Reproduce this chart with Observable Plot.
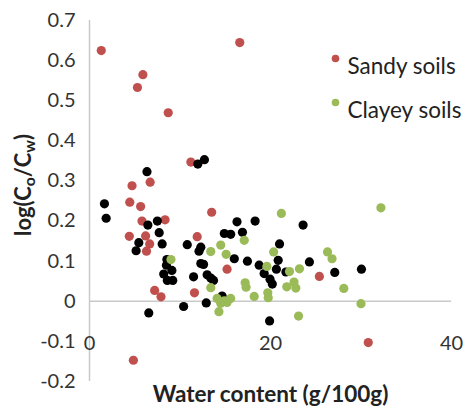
<!DOCTYPE html>
<html>
<head>
<meta charset="utf-8">
<script src="https://cdn.jsdelivr.net/npm/d3@7"></script>
<script src="https://cdn.jsdelivr.net/npm/@observablehq/plot@0.6"></script>
<style>
  html, body { margin: 0; padding: 0; background: #fff; }
</style>
</head>
<body>
<div id="chart"></div>
<script>
// ---- data ----
const sandyX = [1.3, 16.6, 5.9, 5.3, 8.7, 11.2, 4.7, 6.7, 4.45, 5.65, 5.8, 8.35, 4.4, 6.2, 6.65, 6.3, 11.9, 13.5, 7.2, 7.9, 11.6, 15.2, 25.4, 30.8, 4.85];
const sandyY = [0.625, 0.645, 0.565, 0.533, 0.47, 0.347, 0.288, 0.297, 0.247, 0.236, 0.2, 0.203, 0.162, 0.163, 0.143, 0.125, 0.161, 0.222, 0.027, 0.011, 0.021, 0.08, 0.062, -0.103, -0.147];

const clayeyX = [9.0, 13.4, 14.5, 15.1, 17.1, 21.2, 32.2, 20.35, 19.6, 13.4, 17.2, 17.3, 18.2, 19.7, 19.75, 14.1, 14.9, 15.6, 14.5, 15.2, 14.3, 22.1, 23.2, 26.3, 26.8, 21.8, 22.6, 22.8, 28.1, 30.0, 23.1];
const clayeyY = [0.104, 0.124, 0.14, 0.117, 0.152, 0.219, 0.233, 0.123, 0.087, 0.034, 0.046, 0.035, 0.012, 0.021, 0.009, 0.007, 0.001, 0.007, -0.005, -0.003, -0.026, 0.074, 0.081, 0.123, 0.106, 0.036, 0.048, 0.033, 0.032, -0.006, -0.037];

const otherX = [1.65, 1.84, 6.35, 11.97, 12.7, 6.45, 7.5, 7.7, 5.45, 5.15, 8.03, 10.8, 12.3, 12.1, 8.55, 8.5, 9.1, 8.2, 8.6, 9.2, 12.3, 12.6, 11.5, 13.0, 13.4, 13.7, 14.65, 12.9, 10.4, 6.55, 19.9, 14.9, 15.6, 16.9, 16.3, 18.3, 16.0, 17.45, 18.75, 19.3, 19.95, 20.2, 21.0, 20.85, 20.65, 21.7, 23.6, 24.3, 27.1, 30.05];
const otherY = [0.243, 0.207, 0.323, 0.342, 0.353, 0.19, 0.2, 0.171, 0.146, 0.126, 0.143, 0.141, 0.135, 0.125, 0.104, 0.09, 0.077, 0.068, 0.052, 0.052, 0.094, 0.092, 0.061, 0.066, 0.058, 0.052, 0.013, -0.004, -0.013, -0.029, -0.049, 0.169, 0.167, 0.172, 0.198, 0.2, 0.106, 0.1, 0.09, 0.069, 0.055, 0.043, 0.143, 0.102, 0.08, 0.073, 0.19, 0.098, 0.072, 0.08];

const xTicks = [0, 20, 40];
const yTicks = [-0.2, -0.1, 0, 0.1, 0.2, 0.3, 0.4, 0.5, 0.6, 0.7];
const seriesNames = ["Sandy soils", "Clayey soils"];
const colors = { sandy: "#C0504D", clayey: "#9BBB59", other: "#000000" };

const toRows = (xs, ys) => xs.map((x, i) => ({ x, y: ys[i] }));
const sandy = toRows(sandyX, sandyY);
const clayey = toRows(clayeyX, clayeyY);
const other = toRows(otherX, otherY);

const font = "Lato, 'Open Sans', sans-serif";
const axisGray = "#c9c9c9";

const chart = Plot.plot({
  width: 464,
  height: 407,
  marginLeft: 89,
  marginRight: 13,
  marginTop: 20,
  marginBottom: 26,
  x: { domain: [0, 40] },
  y: { domain: [-0.2, 0.7] },
  style: { fontFamily: font, fontSize: "19px", color: "#333", background: "#fff" },
  marks: [
    Plot.ruleX([0], { y1: -0.2, y2: 0.7, stroke: axisGray, strokeWidth: 1.5 }),
    Plot.ruleY([0], { x1: 0, x2: 40, stroke: axisGray, strokeWidth: 1.5 }),
    Plot.axisY({ ticks: yTicks, tickSize: 0, tickPadding: 14, tickFormat: d => String(+d.toFixed(1)), fontSize: 20, fill: "#333", label: null }),
    Plot.axisX({ ticks: xTicks, tickSize: 0, tickFormat: d => String(d), fontSize: 20, fill: "#333", dy: -55, label: null }),
    Plot.dot(sandy, { x: "x", y: "y", r: 4.6, fill: colors.sandy }),
    Plot.dot(other, { x: "x", y: "y", r: 4.6, fill: colors.other }),
    Plot.dot(clayey, { x: "x", y: "y", r: 4.6, fill: colors.clayey }),
    // legend
    Plot.dot([seriesNames[0]], { frameAnchor: "top-left", dx: 246, dy: 38, r: 3.8, fill: colors.sandy }),
    Plot.dot([seriesNames[1]], { frameAnchor: "top-left", dx: 246, dy: 82, r: 3.8, fill: colors.clayey }),
    Plot.text([seriesNames[0]], { text: d => d, frameAnchor: "top-left", dx: 258, dy: 38, textAnchor: "start", fontSize: 22.5, fill: "#222" }),
    Plot.text([seriesNames[1]], { text: d => d, frameAnchor: "top-left", dx: 258, dy: 82, textAnchor: "start", fontSize: 22.5, fill: "#222" }),
    // axis titles
    Plot.text(["Water content (g/100g)"], { text: d => d, frameAnchor: "bottom", dy: 13, lineAnchor: "middle", textAnchor: "middle", fontSize: 22.5, fontWeight: "bold", fill: "#222" }),
    Plot.text(["log(Co/Cw)"], { text: d => d, frameAnchor: "left", dx: -66, dy: -16, rotate: -90, textAnchor: "middle", lineAnchor: "middle", fontSize: 22, fontWeight: "bold", fill: "#222", className: "ytitle" })
  ]
});

document.getElementById("chart").appendChild(chart);

// subscripts in the y-axis title
d3.select(chart).selectAll(".ytitle text").each(function () {
  const t = d3.select(this);
  t.text(null);
  const parts = [["log(C", 0], ["o", 1], ["/C", -1], ["w", 1], [")", -1]];
  for (const [s, shift] of parts) {
    const sp = t.append("tspan").text(s);
    if (shift === 1) sp.attr("font-size", "72%").attr("dy", "4");
    else if (shift === -1) sp.attr("dy", "-4");
  }
});
</script>
</body>
</html>
